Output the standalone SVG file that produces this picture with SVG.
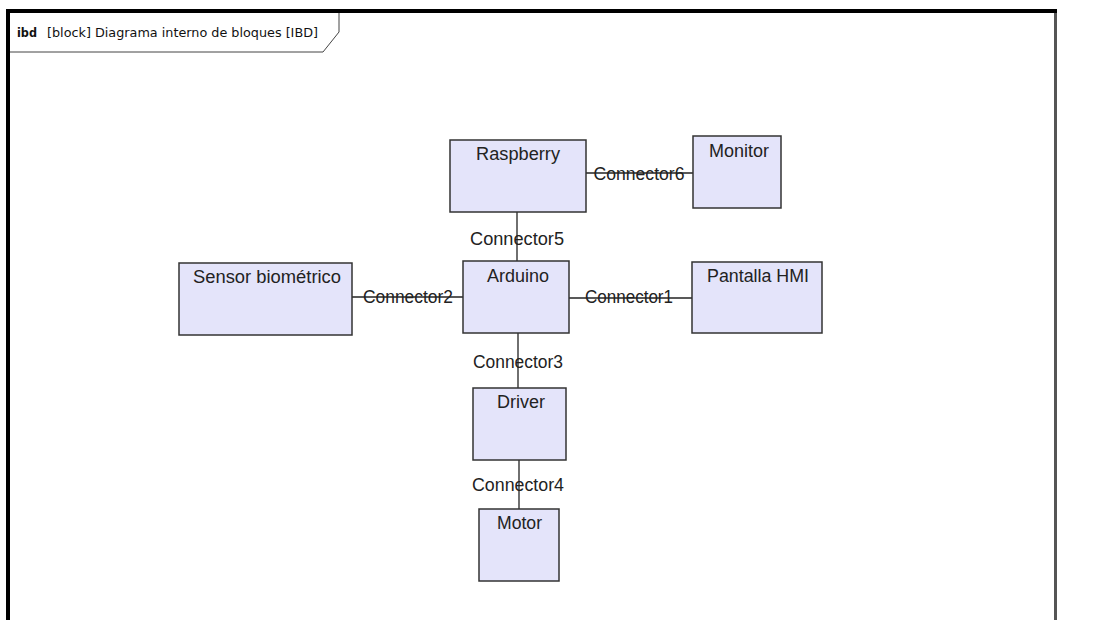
<svg xmlns="http://www.w3.org/2000/svg" width="1107" height="620" viewBox="0 0 1107 620">
<style>
.blk{fill:#e4e4fa;stroke:#333;stroke-width:1.5}
.lbl{font-family:"Liberation Sans",Arial,sans-serif;font-size:17.5px;fill:#222;text-anchor:middle}
.con{stroke:#222;stroke-width:1.3;fill:none}
.ttl{font-family:"DejaVu Sans","Liberation Sans",sans-serif;font-size:12.5px;fill:#111}
</style>
<rect x="0" y="0" width="1107" height="620" fill="#fff"/>
<g id="frame">
<line x1="6" y1="11" x2="1057" y2="11" stroke="#000" stroke-width="4"/>
<line x1="8" y1="9" x2="8" y2="620" stroke="#000" stroke-width="4"/>
<line x1="1055.5" y1="13" x2="1055.5" y2="620" stroke="#555" stroke-width="3"/>
<path d="M10 52 H323 L339 32 V13" fill="none" stroke="#444" stroke-width="1"/>
<text class="ttl" x="17" y="37"><tspan font-weight="bold" textLength="20" lengthAdjust="spacingAndGlyphs">ibd</tspan><tspan x="47" textLength="271" lengthAdjust="spacingAndGlyphs">[block] Diagrama interno de bloques [IBD]</tspan></text>
</g>
<g id="connectors">
<line class="con" x1="586" y1="173" x2="693" y2="173"/>
<line class="con" x1="517" y1="212" x2="517" y2="261"/>
<line class="con" x1="352" y1="297" x2="463" y2="297"/>
<line class="con" x1="569" y1="298" x2="692" y2="298"/>
<line class="con" x1="518" y1="333" x2="518" y2="388"/>
<line class="con" x1="519" y1="460" x2="519" y2="509"/>
<text class="lbl" x="639" y="180" textLength="91" lengthAdjust="spacingAndGlyphs">Connector6</text>
<text class="lbl" x="517" y="245" textLength="94" lengthAdjust="spacingAndGlyphs">Connector5</text>
<text class="lbl" x="408" y="303" textLength="90" lengthAdjust="spacingAndGlyphs">Connector2</text>
<text class="lbl" x="629" y="303" textLength="88" lengthAdjust="spacingAndGlyphs">Connector1</text>
<text class="lbl" x="518" y="368" textLength="90" lengthAdjust="spacingAndGlyphs">Connector3</text>
<text class="lbl" x="518" y="491" textLength="92" lengthAdjust="spacingAndGlyphs">Connector4</text>
</g>
<g id="raspberry"><rect class="blk" x="450" y="140" width="136" height="72"/><text class="lbl" x="518" y="160" textLength="84" lengthAdjust="spacingAndGlyphs">Raspberry</text></g>
<g id="monitor"><rect class="blk" x="693" y="136" width="88" height="72"/><text class="lbl" x="739" y="157" textLength="60" lengthAdjust="spacingAndGlyphs">Monitor</text></g>
<g id="sensor"><rect class="blk" x="179" y="263" width="173" height="72"/><text class="lbl" x="267" y="283" textLength="148" lengthAdjust="spacingAndGlyphs">Sensor biométrico</text></g>
<g id="arduino"><rect class="blk" x="463" y="261" width="106" height="72"/><text class="lbl" x="518" y="282" textLength="62" lengthAdjust="spacingAndGlyphs">Arduino</text></g>
<g id="pantalla"><rect class="blk" x="692" y="262" width="130" height="71"/><text class="lbl" x="758" y="282" textLength="102" lengthAdjust="spacingAndGlyphs">Pantalla HMI</text></g>
<g id="driver"><rect class="blk" x="473" y="388" width="93" height="72"/><text class="lbl" x="521" y="408" textLength="48" lengthAdjust="spacingAndGlyphs">Driver</text></g>
<g id="motor"><rect class="blk" x="479" y="509" width="80" height="72"/><text class="lbl" x="519.5" y="529" textLength="45" lengthAdjust="spacingAndGlyphs">Motor</text></g>
</svg>
